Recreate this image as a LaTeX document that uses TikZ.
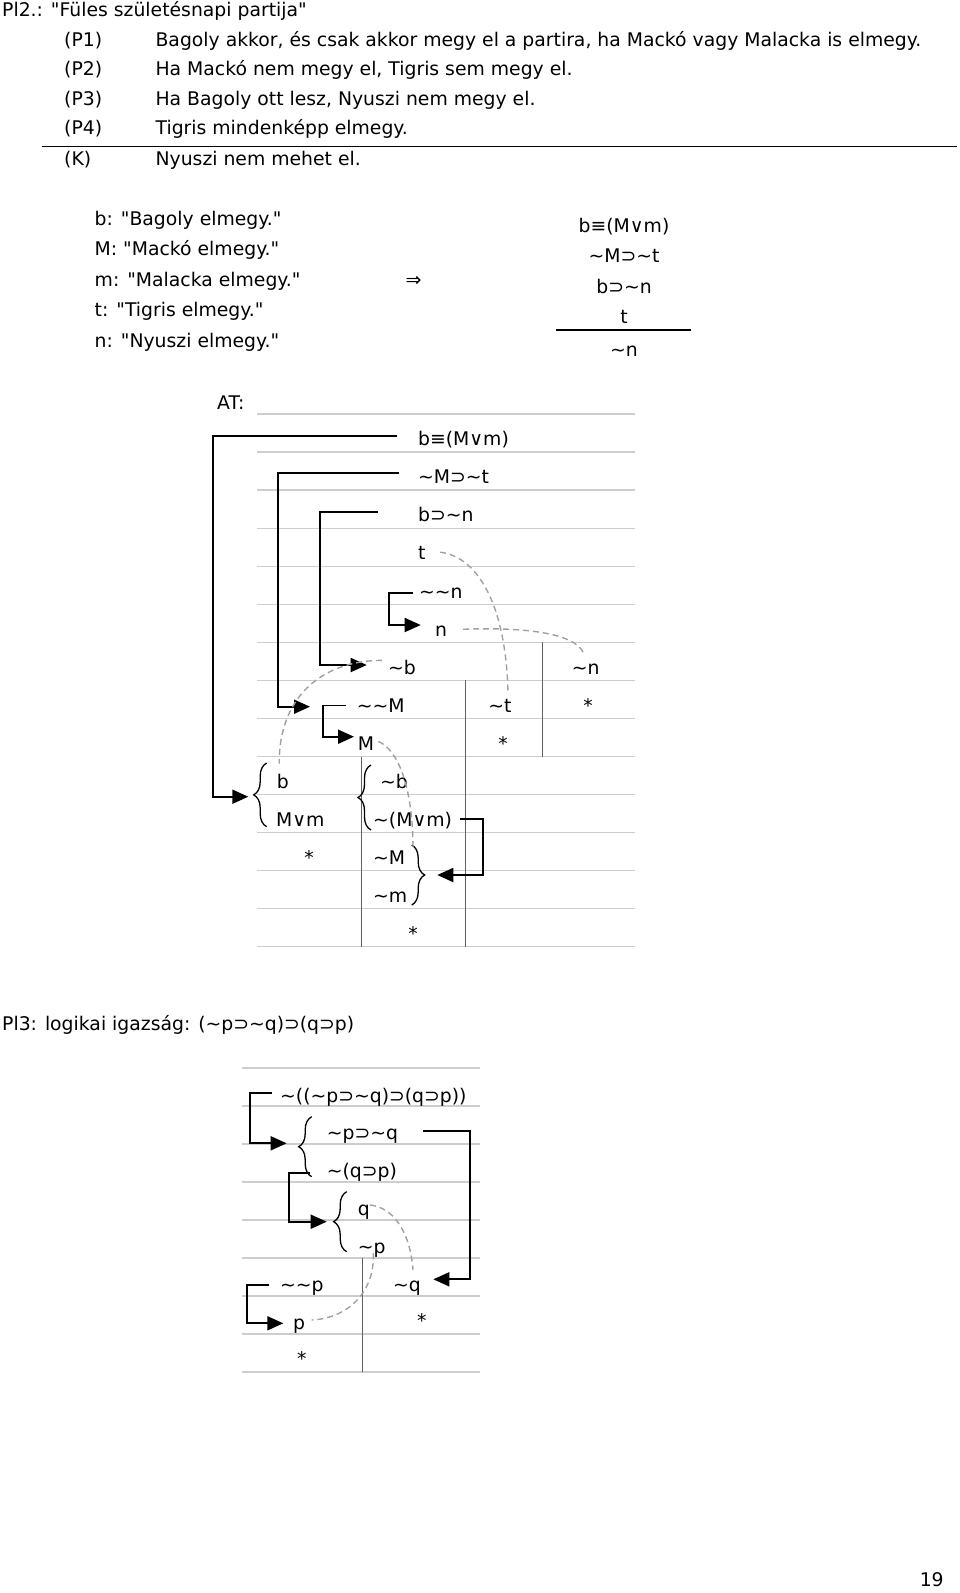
\documentclass[tikz,border=0pt]{standalone}
\usepackage{fontspec}
\newfontfamily\dejavu{DejaVu Sans}
\usetikzlibrary{arrows.meta,decorations.pathreplacing}
\definecolor{rulegray}{RGB}{205,205,205}
\definecolor{branchgray}{RGB}{95,95,95}
\definecolor{linkgray}{RGB}{160,160,160}
\newcommand{\tld}{\char"7E\relax}
\tikzset{
  txt/.style={inner sep=0pt, anchor=west, text height=13.5pt, text depth=4pt},
  mid/.style={inner sep=0pt, text height=13.5pt, text depth=4pt},
  rowline/.style={draw=rulegray, line width=1.3pt},
  branch/.style={draw=branchgray, line width=1.3pt},
  conn/.style={line width=1.8pt, -{Triangle[length=16pt,width=14pt]}},
  link/.style={draw=linkgray, line width=1.4pt, dash pattern=on 6pt off 4pt},
  curly/.style={line width=1.3pt, decorate, decoration={brace,amplitude=13pt}},
}

\begin{document}
\begin{tikzpicture}[x=1pt,y=-1pt,font=\dejavu\fontsize{18.8}{22}\selectfont]
        \useasboundingbox (0,0) rectangle (960,1593);
        % Premises
        \node[txt] (T) at (2,12.2) {Pl2.: "Füles születésnapi partija"};
        \node[txt] (P1) at (64,41.7) {(P1)};
        \node[txt] (P2) at (64,71.1) {(P2)};
        \node[txt] (P3) at (64,100.6) {(P3)};
        \node[txt] (P4) at (64,130) {(P4)};
        \node[txt] (K) at (64,160.5) {(K)};
        \node[txt] (S1) at (155.4,41.7) {Bagoly akkor, és csak akkor megy el a partira, ha Mackó vagy Malacka is elmegy.};
        \node[txt] (S2) at (155.4,71.1) {Ha Mackó nem megy el, Tigris sem megy el.};
        \node[txt] (S3) at (155.4,100.6) {Ha Bagoly ott lesz, Nyuszi nem megy el.};
        \node[txt] (S4) at (155.4,130) {Tigris mindenképp elmegy.};
        \node[txt] (SK) at (155.4,160.5) {Nyuszi nem mehet el.};
        \draw[line width=1.5pt] (41.6,146.3) -- (957,146.3);
        % Variables
        \node[txt] (Vb) at (94.5,220.5) {b: "Bagoly elmegy."};
        \node[txt] (VM) at (94.5,251) {M: "Mackó elmegy."};
        \node[txt] (Vm) at (94.5,281.4) {m: "Malacka elmegy."};
        \node[txt] (Vt) at (94.5,312) {t: "Tigris elmegy."};
        \node[txt] (Vn) at (94.5,342.4) {n: "Nyuszi elmegy."};
        \node[mid, font=\dejavu\fontsize{19}{22}\selectfont] (I) at (413.5,281.4) {⇒};
        \node[mid] (A1) at (624,227.6) {b≡(M∨m)};
        \node[mid] (A2) at (624,258) {\tld M⊃\tld t};
        \node[mid] (A3) at (624,288.5) {b⊃\tld n};
        \node[mid] (A4) at (624,319) {t};
        \draw[line width=1.5pt] (555.7,330) -- (690.8,330);
        \node[mid] (A5) at (624,351.5) {\tld n};
        % Tableau rows
        \node[txt] (AT) at (217,405) {AT:};
        \foreach \k in {0,...,14}
        \draw[rowline] (256.7,{414+38.05*\k}) -- (635,{414+38.05*\k});
        \draw[branch] (542.7,642.3) -- (542.7,756.5);
        \draw[branch] (465.7,680.4) -- (465.7,946.7);
        \draw[branch] (361.3,756.5) -- (361.3,946.7);
        \node[txt] (R1) at (418,441) {b≡(M∨m)};
        \node[txt] (R2) at (418,479.1) {\tld M⊃\tld t};
        \node[txt] (R3) at (418,517.2) {b⊃\tld n};
        \node[txt] (R4) at (418,555.2) {t};
        \node[txt] (R5) at (419,593.3) {\tld\tld n};
        \node[txt] (R6) at (435,631.3) {n};
        \node[txt] (R7) at (388,669.4) {\tld b};
        \node[mid] (C7) at (585.7,669.4) {\tld n};
        \node[txt] (R8) at (356.7,707.4) {\tld\tld M};
        \node[mid] (C8) at (500,707.4) {\tld t};
        \node[mid] (D8) at (588,707.4) {*};
        \node[txt] (R9) at (357.7,745.5) {M};
        \node[mid] (C9) at (503,745.5) {*};
        \node[txt] (R10) at (276.7,783.5) {b};
        \node[txt] (B10) at (380,783.5) {\tld b};
        \node[txt] (R11) at (276,821.6) {M∨m};
        \node[txt] (B11) at (373,821.6) {\tld(M∨m)};
        \node[mid] (R12) at (309,859.6) {*};
        \node[txt] (B12) at (373,859.6) {\tld M};
        \node[txt] (B13) at (373,897.7) {\tld m};
        \node[mid] (B14) at (413,935.7) {*};
        % Braces
        \draw[curly] (266.7,826.7) -- (266.7,763);
        \draw[curly] (371,830) -- (371,765);
        \draw[curly] (411.7,845) -- (411.7,905);
        % Connectors
        \coordinate (kA) at (212.7,796.7);
        \coordinate (tA) at (248.3,796.7);
        \coordinate (kB) at (278.3,706.7);
        \coordinate (tB) at (310,706.7);
        \coordinate (kC) at (320,665);
        \coordinate (tC) at (366.7,665);
        \coordinate (kD) at (389.3,625);
        \coordinate (tD) at (420.7,625);
        \coordinate (kE) at (323.3,736.7);
        \coordinate (tE) at (354,736.7);
        \coordinate (kF) at (483,875);
        \coordinate (tF) at (437.3,875);
        \draw[conn] ([xshift=-21pt,yshift=5pt]R1.west) -| (kA) -- (tA);
        \draw[conn] ([xshift=-18.7pt,yshift=6pt]R2.west) -| (kB) -- (tB);
        \draw[conn] ([xshift=-40.3pt,yshift=5pt]R3.west) -| (kC) -- (tC);
        \draw[conn] ([xshift=-6.3pt]R5.west) -| (kD) -- (tD);
        \draw[conn] ([xshift=-10.7pt,yshift=2pt]R8.west) -| (kE) -- (tE);
        \draw[conn] ([xshift=87pt,yshift=3pt]B11.west) -| (kF) -- (tF);
        % Closing links
        \draw[link] ([xshift=22pt,yshift=3pt]R4.west) .. controls (475,556) and (506,600) .. ([xshift=8pt,yshift=14pt]C8.center);
        \draw[link] ([xshift=28pt,yshift=2pt]R6.west) .. controls (520,627) and (575,632) .. ([xshift=-2pt,yshift=16pt]C7.center);
        \draw[link] ([xshift=-6pt,yshift=9pt]R7.west) .. controls (330,660) and (279,690) .. ([xshift=2.5pt,yshift=20pt]R10.west);
        \draw[link] ([xshift=20.6pt,yshift=4pt]R9.west) .. controls (395,748) and (413,780) .. ([xshift=40pt,yshift=10pt]B12.west);
        % Pl3
        \node[txt] (T3) at (2,1026) {Pl3: logikai igazság: (\tld p⊃\tld q)⊃(q⊃p)};
        \foreach \k in {0,...,8}
        \draw[rowline] (241.7,{1068+38*\k}) -- (480,{1068+38*\k});
        \draw[branch] (362.3,1258) -- (362.3,1372);
        \node[txt] (Q1) at (280,1097.3) {\tld((\tld p⊃\tld q)⊃(q⊃p))};
        \node[txt] (Q2) at (326.7,1135) {\tld p⊃\tld q};
        \node[txt] (Q3) at (326.7,1173) {\tld(q⊃p)};
        \node[txt] (Q4) at (357.7,1211) {q};
        \node[txt] (Q5) at (357.7,1249) {\tld p};
        \node[txt] (Q6) at (280,1287) {\tld\tld p};
        \node[txt] (Q7) at (393,1287) {\tld q};
        \node[txt] (Q8) at (293,1325) {p};
        \node[mid] (Q9) at (421.7,1323) {*};
        \node[mid] (Q10) at (301.7,1361) {*};
        \draw[curly] (311.7,1176.7) -- (311.7,1116.7);
        \draw[curly] (346.7,1251.7) -- (346.7,1191.7);
        \coordinate (kG) at (250,1143.3);
        \coordinate (tG) at (286.7,1143.3);
        \coordinate (kH) at (289.3,1221.7);
        \coordinate (tH) at (326.7,1221.7);
        \coordinate (kI) at (470,1279.3);
        \coordinate (tI) at (433.3,1279.3);
        \coordinate (kJ) at (246.7,1323.3);
        \coordinate (tJ) at (283.3,1323.3);
        \draw[conn] ([xshift=-8.3pt,yshift=4pt]Q1.west) -| (kG) -- (tG);
        \draw[conn] ([xshift=-16.7pt]Q3.west) -| (kH) -- (tH);
        \draw[conn] ([xshift=96.6pt,yshift=4pt]Q2.west) -| (kI) -- (tI);
        \draw[conn] ([xshift=-10.7pt,yshift=2pt]Q6.west) -| (kJ) -- (tJ);
        \draw[link] ([xshift=12.3pt,yshift=6pt]Q4.west) .. controls (392,1207) and (410,1230) .. ([xshift=6pt,yshift=17pt]Q7.center);
        \draw[link] ([xshift=15.6pt,yshift=-4.3pt]Q5.west) .. controls (375,1290) and (350,1318) .. ([xshift=18.7pt,yshift=5pt]Q8.west);
        % Page number
        \node[mid] (N) at (931.7,1581.7) {19};
\end{tikzpicture}
\end{document}
